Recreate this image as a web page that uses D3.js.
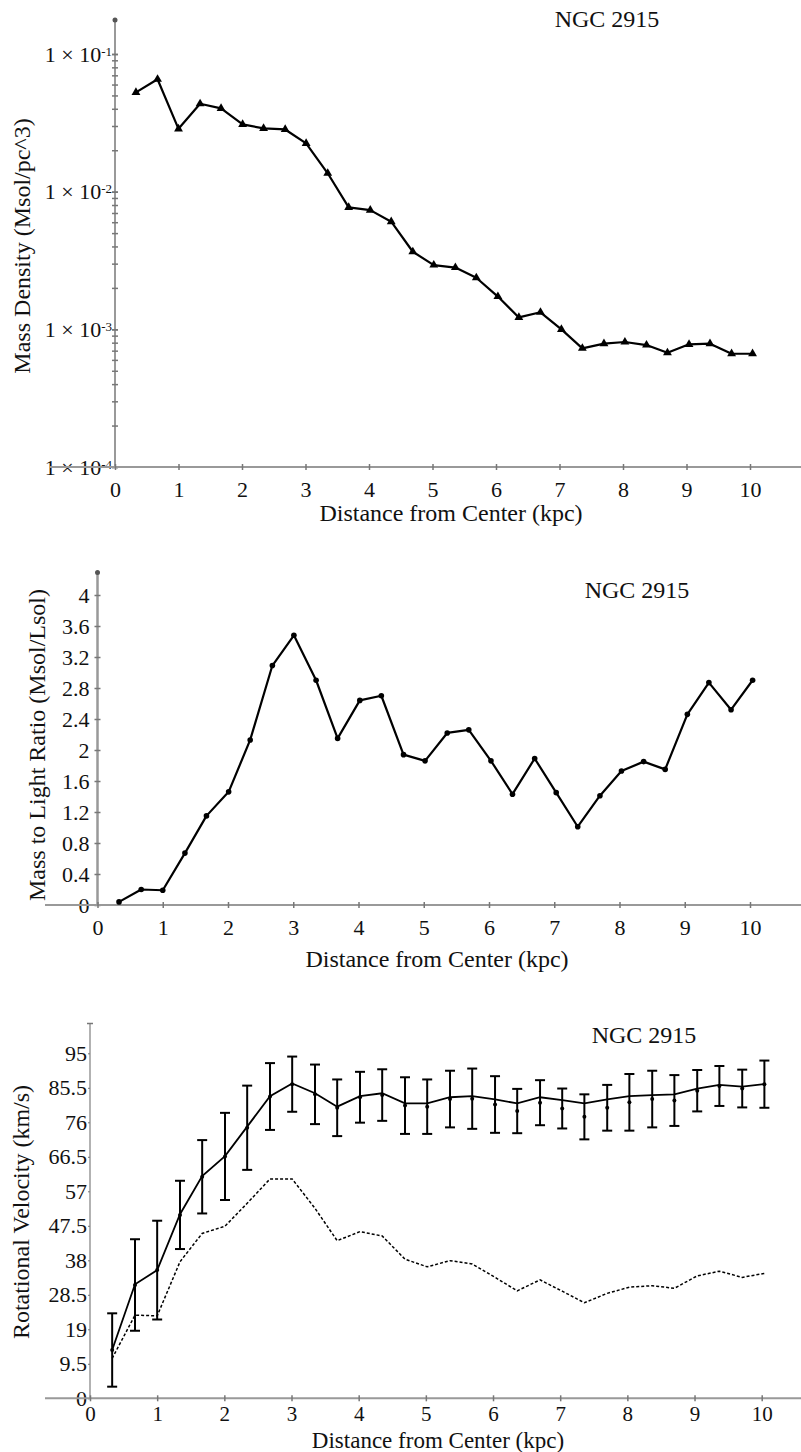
<!DOCTYPE html>
<html>
<head>
<meta charset="utf-8">
<script src="https://cdn.jsdelivr.net/npm/d3@7"></script>
<style>
  body { margin: 0; background: #fff; }
  svg { display: block; }
  svg text { font-family: "Liberation Serif", "Times New Roman", "DejaVu Serif", serif; fill: #111; }
</style>
</head>
<body>
<script>
// radii of the 30 annuli (kpc)
const radius = [0.33, 0.67, 1.00, 1.34, 1.67, 2.01, 2.34, 2.68, 3.01, 3.35,
  3.68, 4.02, 4.35, 4.69, 5.02, 5.36, 5.69, 6.03, 6.36, 6.70,
  7.03, 7.36, 7.70, 8.03, 8.37, 8.70, 9.04, 9.37, 9.71, 10.04];

// Mass density (Msol/pc^3)
const density = [0.0526, 0.0655, 0.0286, 0.0435, 0.0403, 0.0308, 0.0288, 0.0283, 0.0224, 0.0136,
  0.00769, 0.00734, 0.00605, 0.00366, 0.00293, 0.00281, 0.00237, 0.00173, 0.00122, 0.00133,
  0.00100, 0.000728, 0.000787, 0.000809, 0.000769, 0.000676, 0.000778, 0.000787, 0.000665, 0.000665];

// Mass to light ratio (Msol/Lsol)
const massToLight = [0.04, 0.20, 0.19, 0.67, 1.15, 1.46, 2.13, 3.09, 3.48, 2.90,
  2.15, 2.64, 2.70, 1.94, 1.86, 2.22, 2.26, 1.86, 1.43, 1.89,
  1.45, 1.01, 1.41, 1.73, 1.85, 1.75, 2.46, 2.87, 2.52, 2.90];

// rotational velocity (km/s): solid curve, error bar centres, error half widths, dashed curve
const velLine = [13.3, 31.4, 35.3, 50.7, 61.2, 66.7, 74.8, 83.2, 86.7, 84.0,
  80.3, 83.2, 84.0, 81.2, 81.2, 82.9, 83.2, 82.3, 81.2, 82.9,
  82.1, 81.2, 82.3, 83.2, 83.5, 83.7, 85.3, 86.3, 85.8, 86.5];
const velObs = [13.3, 31.2, 35.3, 50.5, 61.0, 66.6, 74.5, 83.1, 86.5, 83.7,
  80.0, 82.9, 83.5, 80.6, 80.3, 82.4, 82.5, 80.9, 79.1, 81.4,
  79.8, 77.5, 80.0, 81.5, 82.4, 82.0, 84.7, 86.0, 85.3, 86.5];
const velErr = [10.1, 12.6, 13.6, 9.4, 10.1, 12.0, 11.6, 9.2, 7.6, 8.2,
  7.8, 7.0, 7.1, 7.8, 7.5, 7.8, 8.3, 7.8, 6.1, 6.2,
  5.5, 6.2, 6.3, 7.8, 7.8, 7.0, 5.7, 5.5, 5.2, 6.5];
const velDashed = [11.0, 22.9, 22.7, 37.6, 45.4, 47.4, 53.7, 60.4, 60.4, 52.3,
  43.4, 45.9, 44.7, 38.3, 36.2, 37.9, 37.0, 33.3, 29.6, 32.6,
  29.5, 26.3, 28.9, 30.6, 31.0, 30.3, 33.7, 35.0, 33.3, 34.4];

const xTicks = [0, 1, 2, 3, 4, 5, 6, 7, 8, 9, 10];
const densityTicks = [1e-4, 1e-3, 1e-2, 1e-1];
const mlTicks = [0, 0.4, 0.8, 1.2, 1.6, 2, 2.4, 2.8, 3.2, 3.6, 4];
const mlTickLabels = ["0", "0.4", "0.8", "1.2", "1.6", "2", "2.4", "2.8", "3.2", "3.6", "4"];
const velTicks = [0, 9.5, 19, 28.5, 38, 47.5, 57, 66.5, 76, 85.5, 95];
const velTickLabels = ["0", "9.5", "19", "28.5", "38", "47.5", "57", "66.5", "76", "85.5", "95"];

const galaxy = "NGC 2915";
const xTitle = "Distance from Center (kpc)";

let width = 801;
let height = 1452;
let axisGray = "#999";

let svg = d3.select('body').append('svg')
    .attr('width', width).attr('height', height);

function xAxisAt(scale, y, x0, pad, fs) {
    svg.append('line')
        .attr('x1', x0).attr('x2', width).attr('y1', y).attr('y2', y)
        .attr('stroke', axisGray).attr('stroke-width', 2)
    let g = svg.append('g')
        .attr('transform', 'translate(0,' + y + ')')
        .call(d3.axisBottom(scale).tickValues(xTicks).tickSize(3).tickPadding(pad).tickFormat(d3.format('d')))
    g.select('.domain').remove()
    g.selectAll('.tick line').attr('y1', -3).attr('y2', 3)
        .attr('stroke', '#777').attr('stroke-width', 1.5)
    g.selectAll('.tick text').attr('font-size', fs)
}

function yAxisLine(x, y0, y1, sw) {
    svg.append('line')
        .attr('x1', x).attr('x2', x).attr('y1', y0).attr('y2', y1)
        .attr('stroke', axisGray).attr('stroke-width', sw)
}

function label(txt, x, y, size) {
    return svg.append('text').attr('x', x).attr('y', y)
        .attr('text-anchor', 'middle').attr('font-size', size).text(txt)
}

function yLabel(txt, x, y) {
    svg.append('text')
        .attr('transform', 'translate(' + x + ',' + y + ') rotate(-90)')
        .attr('text-anchor', 'middle').attr('font-size', 24).text(txt)
}

// ---------- panel 1 : mass density (log) ----------
let xTop = d3.scaleLinear().domain([0, 10]).range([115, 750]);
let yTop = d3.scaleLog().domain([1e-4, 1e-1]).range([467, 54]);

yAxisLine(115, 467, 19, 2)
svg.append('circle').attr('cx', 115).attr('cy', 20).attr('r', 2.5).attr('fill', '#555')

// minor ticks
let minor = svg.append('g').attr('transform', 'translate(115,0)')
    .call(d3.axisLeft(yTop).tickValues(yTop.ticks()).tickSize(3).tickFormat(''))
minor.select('.domain').remove()
minor.selectAll('.tick line').attr('x1', -3).attr('x2', 3).attr('stroke', '#777').attr('stroke-width', 1.5)

let yTopAxis = svg.append('g').attr('transform', 'translate(115,0)')
    .call(d3.axisLeft(yTop).tickValues(densityTicks).tickSize(3).tickPadding(0).tickFormat(''))
yTopAxis.select('.domain').remove()
yTopAxis.selectAll('.tick line').attr('x1', -3).attr('x2', 3).attr('stroke', '#777').attr('stroke-width', 1.5)
yTopAxis.selectAll('.tick text')
    .attr('font-size', 22)
    .each(function (d) {
        let t = d3.select(this)
        t.append('tspan').text('1 \u00d7 10')
        t.append('tspan').attr('dy', -6).attr('font-size', 13).text(String(Math.round(Math.log10(d))))
    })

xAxisAt(xTop, 467, 50, 11, 22)

let densityLine = d3.line()
    .x((d, i) => xTop(radius[i]))
    .y((d) => yTop(d))
svg.append('path').datum(density)
    .attr('d', densityLine).attr('fill', 'none')
    .attr('stroke', '#000').attr('stroke-width', 2.2).attr('stroke-linejoin', 'round')
svg.selectAll('.tri').data(density).enter().append('path')
    .attr('class', 'tri')
    .attr('transform', (d, i) => 'translate(' + xTop(radius[i]) + ',' + yTop(d) + ')')
    .attr('d', d3.symbol(d3.symbolTriangle, 34))
    .attr('fill', '#000')

label(galaxy, 607, 27, 24)
label(xTitle, 451, 521, 24)
yLabel('Mass Density (Msol/pc^3)', 30, 246)

// ---------- panel 2 : mass to light ----------
let xMid = d3.scaleLinear().domain([0, 10]).range([97.5, 750]);
let yMid = d3.scaleLinear().domain([0, 4]).range([905, 595]);

yAxisLine(97.5, 905, 572, 2.5)
svg.append('circle').attr('cx', 97.5).attr('cy', 572.5).attr('r', 2.5).attr('fill', '#555')

let yMidAxis = svg.append('g').attr('transform', 'translate(97.5,0)')
    .call(d3.axisLeft(yMid).tickValues(mlTicks).tickSize(3).tickPadding(5)
        .tickFormat((d, i) => mlTickLabels[i]))
yMidAxis.select('.domain').remove()
yMidAxis.selectAll('.tick line').attr('x1', -3).attr('x2', 3).attr('stroke', '#777').attr('stroke-width', 1.5)
yMidAxis.selectAll('.tick text').attr('font-size', 22)

xAxisAt(xMid, 905, 45, 11, 22)

let mlLine = d3.line()
    .x((d, i) => xMid(radius[i]))
    .y((d) => yMid(d))
svg.append('path').datum(massToLight)
    .attr('d', mlLine).attr('fill', 'none')
    .attr('stroke', '#000').attr('stroke-width', 2.2).attr('stroke-linejoin', 'round')
svg.selectAll('.mldot').data(massToLight).enter().append('circle')
    .attr('class', 'mldot')
    .attr('cx', (d, i) => xMid(radius[i]))
    .attr('cy', (d) => yMid(d))
    .attr('r', 2.8).attr('fill', '#000')

label(galaxy, 637, 598, 24)
label(xTitle, 437, 967, 24)
yLabel('Mass to Light Ratio (Msol/Lsol)', 45, 745)

// ---------- panel 3 : rotation curve ----------
let xBot = d3.scaleLinear().domain([0, 10]).range([90, 761.7]);
let yBot = d3.scaleLinear().domain([0, 95]).range([1398.3, 1053.3]);

yAxisLine(90, 1398.3, 1023.5, 1.5)
svg.append('line').attr('x1', 87).attr('x2', 93).attr('y1', 1023.5).attr('y2', 1023.5)
    .attr('stroke', '#777').attr('stroke-width', 1.5)

let yBotAxis = svg.append('g').attr('transform', 'translate(90,0)')
    .call(d3.axisLeft(yBot).tickValues(velTicks).tickSize(2).tickPadding(1)
        .tickFormat((d, i) => velTickLabels[i]))
yBotAxis.select('.domain').remove()
yBotAxis.selectAll('.tick line').attr('stroke', '#777').attr('stroke-width', 1)
yBotAxis.selectAll('.tick text').attr('font-size', 22)

xAxisAt(xBot, 1398.3, 45, 5, 21)

let velPath = d3.line()
    .x((d, i) => xBot(radius[i]))
    .y((d) => yBot(d))
svg.append('path').datum(velDashed)
    .attr('d', velPath).attr('fill', 'none')
    .attr('stroke', '#000').attr('stroke-width', 1.5).attr('stroke-dasharray', '3,2')

svg.append('path').datum(velLine)
    .attr('d', velPath).attr('fill', 'none')
    .attr('stroke', '#000').attr('stroke-width', 1.8)

let bars = svg.selectAll('.err').data(velObs).enter().append('g').attr('class', 'err')
bars.append('line')
    .attr('x1', (d, i) => xBot(radius[i])).attr('x2', (d, i) => xBot(radius[i]))
    .attr('y1', (d, i) => yBot(d + velErr[i])).attr('y2', (d, i) => yBot(d - velErr[i]))
    .attr('stroke', '#000').attr('stroke-width', 2)
bars.append('line')
    .attr('x1', (d, i) => xBot(radius[i]) - 5).attr('x2', (d, i) => xBot(radius[i]) + 5)
    .attr('y1', (d, i) => yBot(d + velErr[i])).attr('y2', (d, i) => yBot(d + velErr[i]))
    .attr('stroke', '#000').attr('stroke-width', 2)
bars.append('line')
    .attr('x1', (d, i) => xBot(radius[i]) - 5).attr('x2', (d, i) => xBot(radius[i]) + 5)
    .attr('y1', (d, i) => yBot(d - velErr[i])).attr('y2', (d, i) => yBot(d - velErr[i]))
    .attr('stroke', '#000').attr('stroke-width', 2)
bars.append('circle')
    .attr('cx', (d, i) => xBot(radius[i])).attr('cy', (d) => yBot(d))
    .attr('r', 2).attr('fill', '#000')

label(galaxy, 644, 1043, 24)
label(xTitle, 438, 1448, 23)
yLabel('Rotational Velocity (km/s)', 29, 1212)
</script>
</body>
</html>
